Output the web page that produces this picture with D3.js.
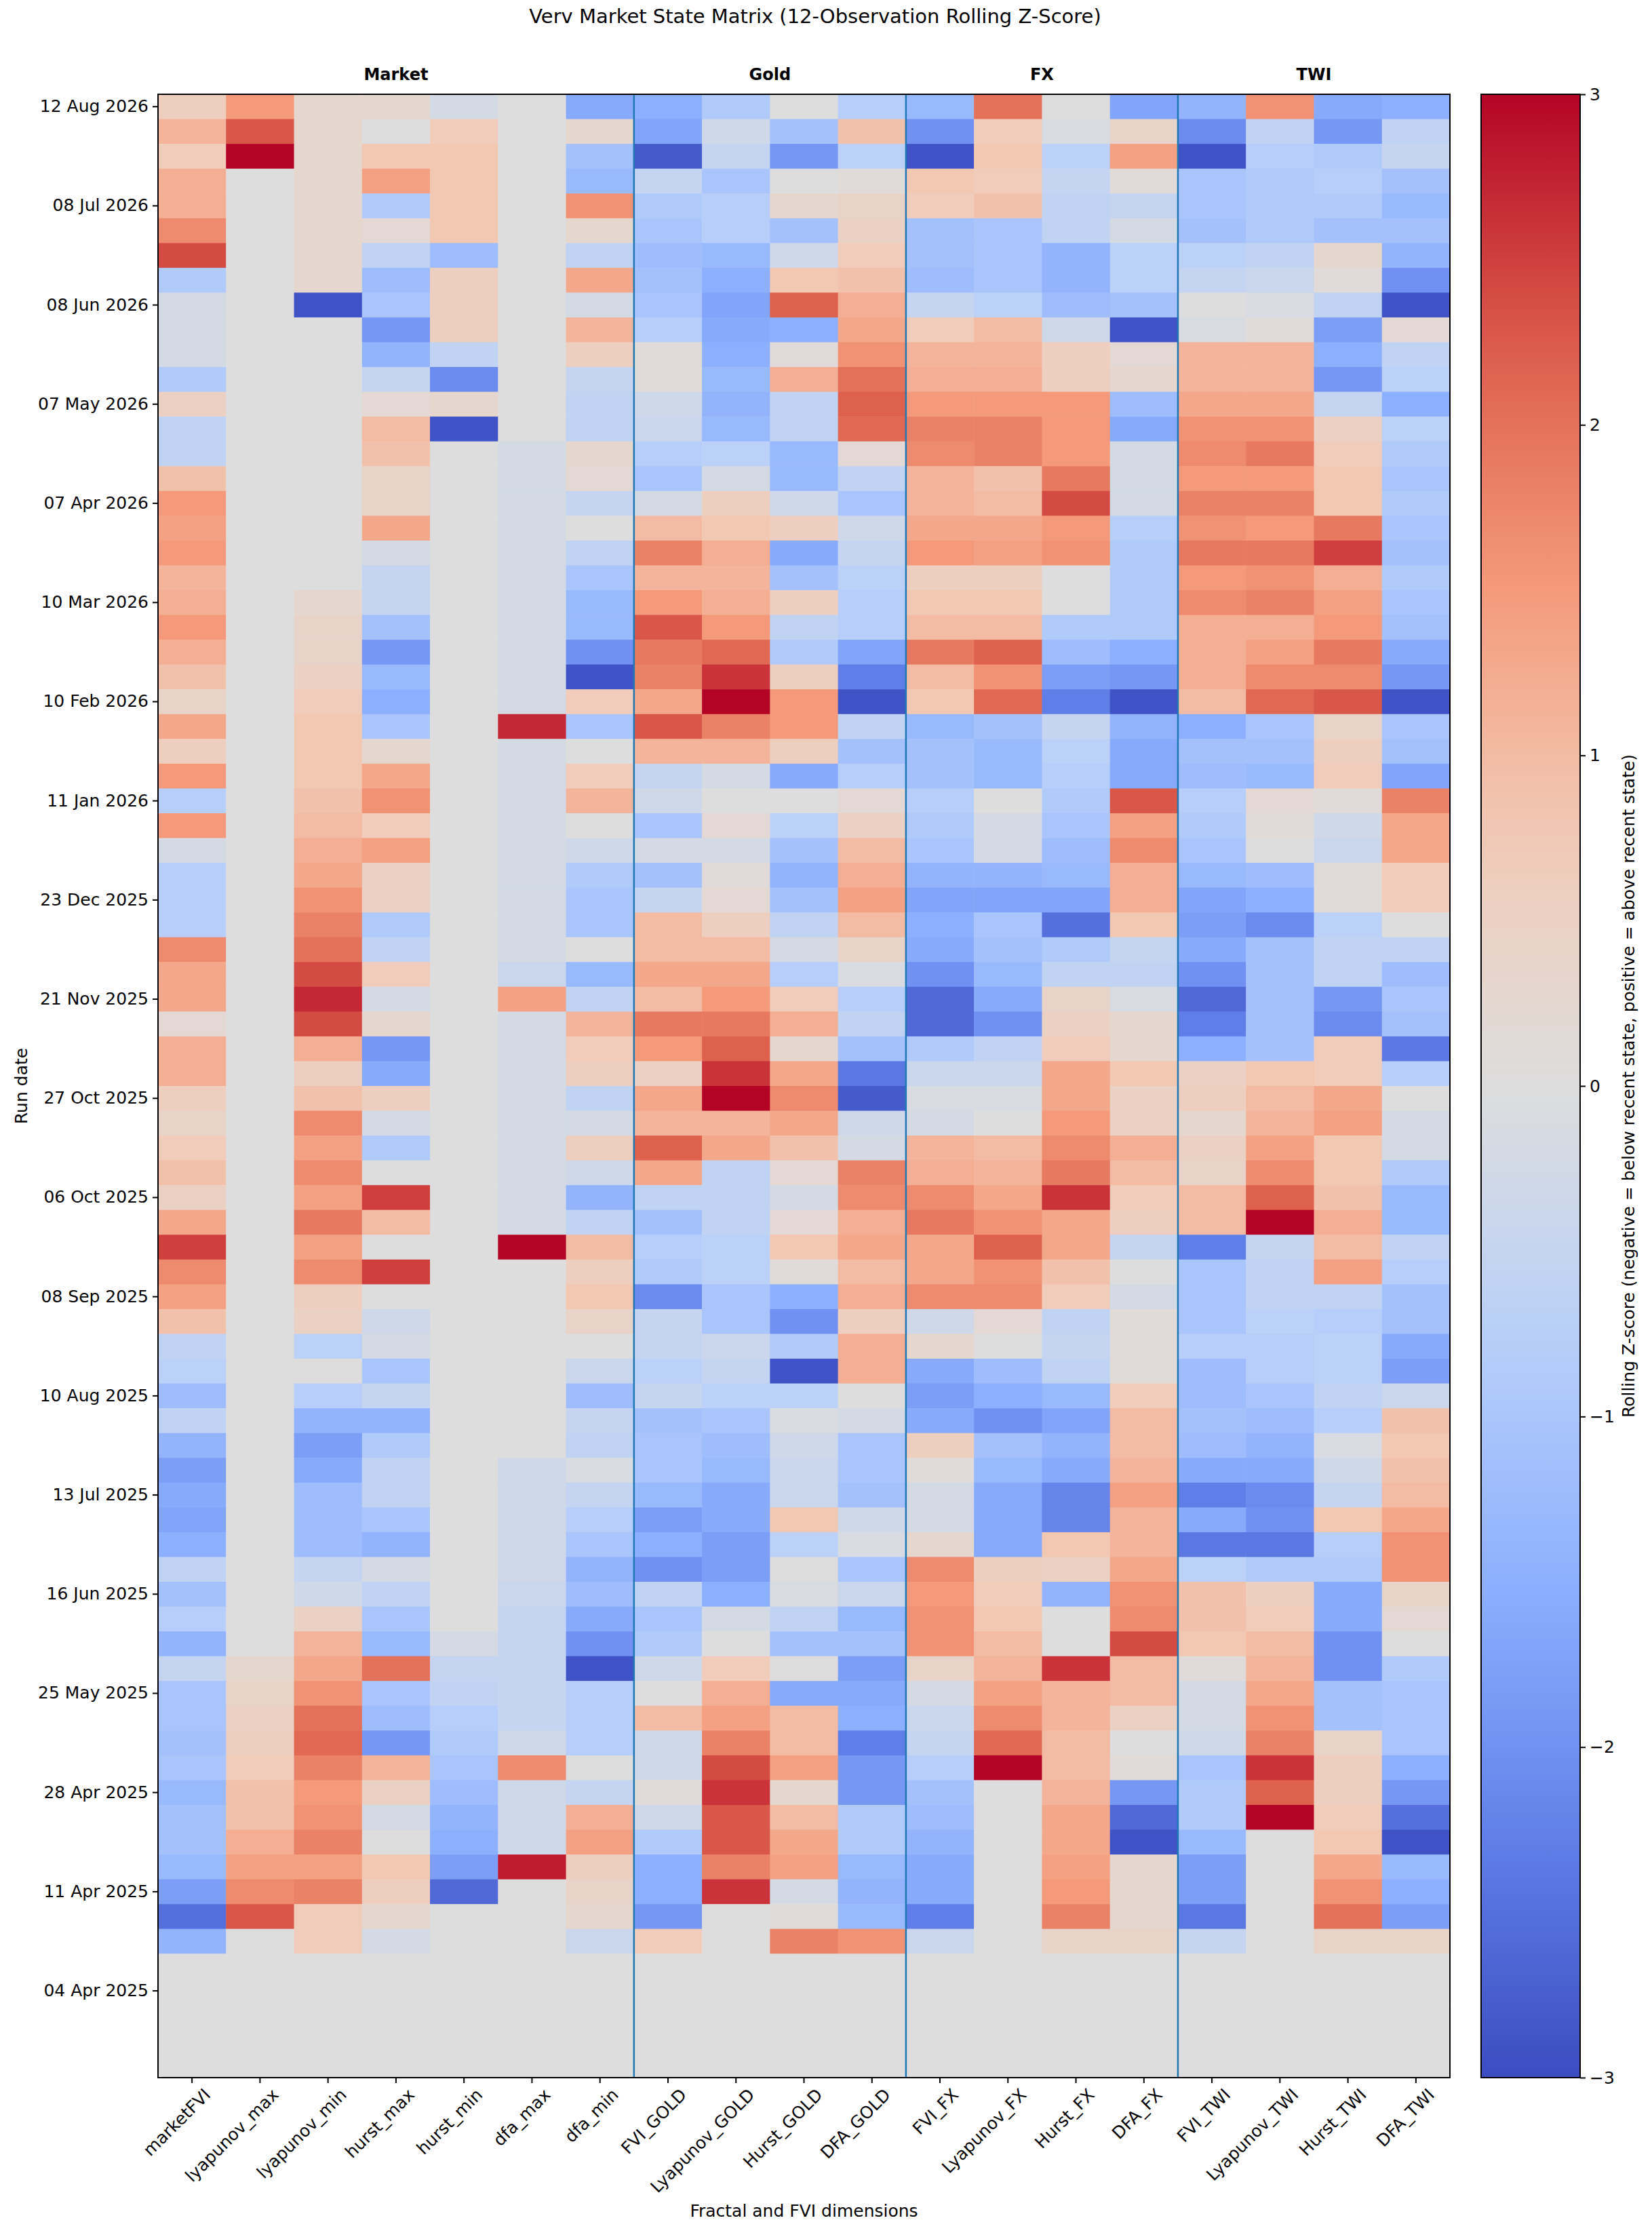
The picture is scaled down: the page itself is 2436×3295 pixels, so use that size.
<!DOCTYPE html>
<html><head><meta charset="utf-8">
<script src="https://cdn.jsdelivr.net/npm/d3@7"></script>
<style>body{margin:0;background:#fff}text{font-family:"DejaVu Sans",sans-serif}</style>
</head><body>
<script>
const columns = ["marketFVI","lyapunov_max","lyapunov_min","hurst_max","hurst_min","dfa_max","dfa_min","FVI_GOLD","Lyapunov_GOLD","Hurst_GOLD","DFA_GOLD","FVI_FX","Lyapunov_FX","Hurst_FX","DFA_FX","FVI_TWI","Lyapunov_TWI","Hurst_TWI","DFA_TWI"];
const groups = [{name:"Market",from:0,to:7},{name:"Gold",from:7,to:11},{name:"FX",from:11,to:15},{name:"TWI",from:15,to:19}];
const dateTicks = ["12 Aug 2026","08 Jul 2026","08 Jun 2026","07 May 2026","07 Apr 2026","10 Mar 2026","10 Feb 2026","11 Jan 2026","23 Dec 2025","21 Nov 2025","27 Oct 2025","06 Oct 2025","08 Sep 2025","10 Aug 2025","13 Jul 2025","16 Jun 2025","25 May 2025","28 Apr 2025","11 Apr 2025","04 Apr 2025"];
const tickEvery = 4;
const nRows = 80;
const values = [
[0.6,1.5,0.3,0.3,-0.2,0,-1.6,-1.5,-0.9,0,-0.8,-1.3,2.0,0,-1.7,-1.4,1.6,-1.6,-1.5],
[1.1,2.3,0.3,0.0,0.7,0,0.3,-1.7,-0.3,-1.1,0.9,-2.0,0.7,-0.1,0.4,-2.1,-0.6,-1.9,-0.6],
[0.7,3.0,0.3,0.8,0.8,0,-1.1,-2.8,-0.5,-1.9,-0.7,-2.9,0.8,-0.7,1.4,-2.9,-0.8,-0.9,-0.5],
[1.2,0,0.3,1.4,0.8,0,-1.3,-0.5,-1.0,0,0.1,0.8,0.7,-0.5,0.1,-1.0,-0.9,-0.8,-1.1],
[1.2,0,0.3,-0.9,0.8,0,1.6,-0.9,-0.8,0.3,0.4,0.7,0.9,-0.6,-0.5,-1.0,-0.9,-0.9,-1.3],
[1.7,0,0.3,0.2,0.8,0,0.3,-1.0,-0.8,-1.1,0.5,-1.1,-1.0,-0.6,-0.2,-1.1,-0.9,-1.1,-1.1],
[2.4,0,0.3,-0.6,-1.2,0,-0.6,-1.2,-1.3,-0.3,0.7,-1.1,-1.0,-1.4,-0.7,-0.7,-0.6,0.3,-1.4],
[-0.9,0,0.3,-1.2,0.6,0,1.3,-1.1,-1.5,0.8,0.9,-1.2,-1.0,-1.4,-0.7,-0.5,-0.4,0.1,-2.0],
[-0.2,0,-2.9,-1.0,0.6,0,-0.2,-1.0,-1.7,2.2,1.2,-0.5,-0.7,-1.2,-1.1,0,-0.1,-0.6,-2.9],
[-0.2,0,0,-1.9,0.6,0,1.1,-0.8,-1.6,-1.5,1.3,0.7,1.0,-0.3,-2.9,-0.1,0.1,-1.8,0.2],
[-0.2,0,0,-1.4,-0.6,0,0.6,0.1,-1.5,0.1,1.6,1.1,1.1,0.6,0.2,1.1,1.1,-1.5,-0.6],
[-0.9,0,0,-0.5,-2.1,0,-0.5,0.1,-1.3,1.2,2.0,1.2,1.2,0.6,0.3,1.1,1.1,-1.9,-0.7],
[0.5,0,0,0.2,0.3,0,-0.6,-0.3,-1.4,-0.6,2.2,1.5,1.5,1.5,-1.2,1.3,1.3,-0.5,-1.5],
[-0.6,0,0,1.0,-2.9,0,-0.6,-0.4,-1.3,-0.6,2.1,1.8,1.8,1.5,-1.6,1.6,1.6,0.5,-0.7],
[-0.6,0,0,0.9,0,-0.2,0.3,-0.8,-0.7,-1.3,0.2,1.7,1.8,1.5,-0.2,1.7,1.9,0.7,-0.9],
[0.9,0,0,0.4,0,-0.2,0.2,-1.0,-0.2,-1.3,-0.6,1.1,0.9,1.9,-0.2,1.5,1.5,0.8,-1.0],
[1.5,0,0,0.4,0,-0.2,-0.5,-0.2,0.6,-0.3,-1.0,1.1,1.0,2.4,-0.2,1.8,1.8,0.8,-0.9],
[1.4,0,0,1.3,0,-0.2,0,1.0,0.8,0.6,-0.3,1.3,1.3,1.5,-0.8,1.6,1.5,1.9,-1.0],
[1.5,0,0,-0.2,0,-0.2,-0.6,1.8,1.2,-1.6,-0.5,1.5,1.4,1.6,-0.9,1.9,1.9,2.5,-1.1],
[1.1,0,0,-0.5,0,-0.2,-1.0,1.1,1.1,-1.1,-0.7,0.6,0.6,0,-0.9,1.5,1.6,1.2,-0.9],
[1.2,0,0.3,-0.5,0,-0.2,-1.3,1.5,1.2,0.6,-0.8,0.8,0.8,0,-0.9,1.7,1.8,1.4,-1.0],
[1.5,0,0.4,-1.1,0,-0.2,-1.3,2.3,1.5,-0.6,-0.8,1.0,1.0,-0.9,-0.9,1.2,1.2,1.5,-1.1],
[1.2,0,0.4,-1.9,0,-0.2,-2.0,1.9,2.1,-0.9,-1.7,1.9,2.2,-1.2,-1.5,1.2,1.4,1.9,-1.6],
[0.9,0,0.5,-1.3,0,-0.2,-2.9,1.8,2.6,0.6,-2.3,1.0,1.6,-1.8,-1.9,1.2,1.7,1.7,-1.9],
[0.4,0,0.7,-1.5,0,-0.2,0.7,1.3,3.0,1.5,-2.9,0.8,2.1,-2.3,-2.9,1.0,2.1,2.3,-2.9],
[1.3,0,0.8,-1.0,0,2.7,-1.0,2.3,1.8,1.5,-0.6,-1.3,-1.1,-0.5,-1.4,-1.5,-1.0,0.4,-1.0],
[0.6,0,0.8,0.3,0,-0.2,0,1.1,1.1,0.6,-1.1,-1.1,-1.3,-0.7,-1.6,-1.1,-1.1,0.6,-1.1],
[1.5,0,0.8,1.3,0,-0.2,0.7,-0.5,-0.2,-1.6,-0.8,-1.1,-1.3,-0.8,-1.6,-1.2,-1.3,0.7,-1.7],
[-0.8,0,0.9,1.6,0,-0.2,1.1,-0.3,0,0,0.2,-0.8,0,-0.9,2.3,-0.8,0.2,0.1,1.8],
[1.5,0,1.0,0.7,0,-0.2,0,-1.0,0.2,-0.7,0.5,-0.9,-0.2,-1.0,1.4,-0.9,0.1,-0.3,1.3],
[-0.2,0,1.2,1.4,0,-0.2,-0.3,-0.2,-0.2,-1.1,1.0,-1.0,-0.2,-1.2,1.7,-1.0,0,-0.4,1.3],
[-0.8,0,1.3,0.5,0,-0.2,-0.9,-1.1,0.1,-1.4,1.2,-1.4,-1.4,-1.3,1.2,-1.3,-1.2,0.1,0.7],
[-0.8,0,1.6,0.5,0,-0.2,-1.0,-0.5,0.2,-1.1,1.4,-1.7,-1.7,-1.7,1.2,-1.7,-1.5,0.1,0.7],
[-0.8,0,1.8,-0.9,0,-0.2,-1.0,1.0,0.6,-0.6,1.0,-1.5,-1.0,-2.5,0.8,-1.8,-2.1,-0.7,0],
[1.7,0,2.0,-0.6,0,-0.2,0,1.0,1.0,-0.2,0.4,-1.6,-1.1,-0.9,-0.5,-1.6,-1.1,-0.6,-0.6],
[1.3,0,2.4,0.7,0,-0.4,-1.3,1.3,1.3,-0.8,-0.1,-2.0,-1.3,-0.6,-0.6,-2.0,-1.1,-0.6,-1.2],
[1.3,0,2.7,-0.2,0,1.4,-0.6,1.0,1.5,0.7,-0.8,-2.6,-1.6,0.4,-0.1,-2.6,-1.1,-1.9,-1.0],
[0.2,0,2.4,0.3,0,-0.2,1.1,1.9,1.9,1.2,-0.6,-2.6,-2.0,0.5,0.3,-2.3,-1.1,-2.1,-1.1],
[1.2,0,1.2,-1.9,0,-0.2,0.7,1.5,2.2,0.3,-1.1,-0.9,-0.6,0.7,0.3,-1.5,-1.1,0.7,-2.4],
[1.2,0,0.6,-1.6,0,-0.2,0.6,0.5,2.6,1.3,-2.4,-0.4,-0.4,1.3,0.8,0.5,0.8,0.7,-0.8],
[0.6,0,0.9,0.6,0,-0.2,-0.6,1.3,3.0,1.7,-2.8,-0.1,-0.1,1.3,0.5,0.6,1.0,1.3,0],
[0.4,0,1.7,-0.2,0,-0.2,-0.2,1.1,1.1,1.3,-0.3,-0.2,0,1.5,0.5,0.3,1.1,1.4,-0.2],
[0.7,0,1.4,-0.9,0,-0.2,0.6,2.2,1.3,0.9,-0.2,1.1,1.0,1.7,1.2,0.5,1.4,0.8,-0.2],
[0.9,0,1.7,0,0,-0.2,-0.3,1.3,-0.6,0.2,1.8,1.2,1.1,1.9,1.0,0.4,1.7,0.8,-0.9],
[0.5,0,1.4,2.5,0,-0.2,-1.4,-0.6,-0.6,-0.2,1.7,1.7,1.3,2.6,0.7,1.0,2.2,0.9,-1.3],
[1.3,0,1.9,1.0,0,-0.2,-0.6,-1.1,-0.6,0.2,1.2,1.9,1.6,1.3,0.6,1.0,3.0,1.2,-1.3],
[2.5,0,1.4,0,0,3.0,1.0,-0.8,-0.7,0.8,1.3,1.3,2.2,1.3,-0.5,-2.3,-0.5,1.0,-0.6],
[1.7,0,1.7,2.5,0,0,0.6,-0.9,-0.7,0.1,1.0,1.3,1.6,0.9,0,-1.0,-0.6,1.4,-0.8],
[1.4,0,0.6,0,0,0,0.8,-2.1,-1.0,-1.5,1.2,1.7,1.7,0.7,-0.2,-1.0,-0.6,-0.6,-1.1],
[0.9,0,0.5,-0.3,0,0,0.4,-0.5,-1.0,-2.0,0.6,-0.3,0.2,-0.6,0.1,-1.0,-0.7,-0.8,-1.1],
[-0.6,0,-0.7,-0.2,0,0,0,-0.5,-0.4,-0.9,1.2,0.3,0,-0.5,0.1,-0.8,-0.8,-0.7,-1.6],
[-0.7,0,0,-1.0,0,0,-0.4,-0.7,-0.5,-2.9,1.2,-1.6,-1.2,-0.6,0.1,-1.2,-0.8,-0.7,-1.8],
[-1.2,0,-0.8,-0.5,0,0,-1.2,-0.5,-0.7,-0.7,0,-1.8,-1.5,-1.3,0.7,-1.2,-1.0,-0.6,-0.4],
[-0.6,0,-1.4,-1.4,0,0,-0.5,-1.1,-1.0,-0.1,-0.2,-1.6,-2.0,-1.7,1.0,-1.1,-1.2,-0.8,0.9],
[-1.4,0,-1.8,-0.9,0,0,-0.6,-1.0,-1.2,-0.3,-1.0,0.6,-1.1,-1.4,1.0,-1.2,-1.4,-0.1,0.8],
[-1.8,0,-1.6,-0.6,0,-0.3,-0.1,-1.0,-1.3,-0.4,-1.0,0.1,-1.3,-1.6,1.1,-1.6,-1.6,-0.3,0.9],
[-1.6,0,-1.2,-0.6,0,-0.3,-0.5,-1.3,-1.6,-0.4,-1.1,-0.2,-1.6,-2.2,1.4,-2.3,-2.1,-0.5,1.0],
[-1.7,0,-1.2,-1.0,0,-0.3,-0.8,-1.8,-1.6,0.8,-0.3,-0.2,-1.6,-2.2,1.1,-1.6,-2.0,0.8,1.3],
[-1.5,0,-1.2,-1.4,0,-0.3,-1.0,-1.5,-1.8,-0.7,-0.1,0.3,-1.6,0.8,1.1,-2.4,-2.4,-0.8,1.6],
[-0.6,0,-0.5,-0.2,0,-0.3,-1.4,-2.0,-1.8,0,-1.0,1.7,0.6,0.5,1.3,-0.7,-0.9,-0.9,1.6],
[-1.1,0,-0.3,-0.6,0,-0.4,-1.2,-0.6,-1.5,-0.1,-0.4,1.5,0.7,-1.4,1.6,0.9,0.6,-1.6,0.4],
[-0.8,0,0.5,-1.0,0,-0.5,-1.6,-1.0,-0.2,-0.6,-1.3,1.6,0.8,0,1.7,0.9,0.7,-1.6,0.2],
[-1.4,0,1.1,-1.3,-0.2,-0.5,-2.0,-0.9,0,-1.1,-1.1,1.6,1.0,0,2.4,0.8,1.0,-2.0,0],
[-0.5,0.3,1.3,2.0,-0.5,-0.5,-2.9,-0.3,0.7,0,-1.8,0.4,1.1,2.6,1.0,0.1,1.1,-2.0,-0.9],
[-1.0,0.4,1.6,-1.0,-0.6,-0.5,-0.8,0,1.2,-1.6,-1.6,-0.2,1.4,1.1,1.0,-0.2,1.3,-1.1,-1.0],
[-1.0,0.5,2.0,-1.2,-0.8,-0.5,-0.8,1.0,1.4,1.0,-1.5,-0.4,1.7,1.1,0.5,-0.2,1.6,-1.1,-1.0],
[-1.1,0.6,2.1,-1.9,-0.9,-0.3,-0.8,-0.3,1.8,1.0,-2.3,-0.5,2.1,1.0,0,-0.3,1.8,0.4,-1.0],
[-1.0,0.7,1.8,1.1,-1.0,1.7,0,-0.3,2.4,1.4,-1.9,-0.8,3.0,1.0,0.1,-1.0,2.6,0.6,-1.5],
[-1.3,0.9,1.5,0.5,-1.2,-0.3,-0.5,0.1,2.6,0.3,-1.9,-1.1,0,1.1,-1.9,-0.9,2.2,0.6,-1.9],
[-1.1,0.9,1.6,-0.2,-1.4,-0.3,1.2,-0.3,2.3,1.0,-0.9,-1.2,0,1.3,-2.6,-0.9,3.0,0.7,-2.5],
[-1.1,1.2,1.8,0,-1.5,-0.3,1.4,-0.9,2.3,1.3,-0.9,-1.4,0,1.3,-2.9,-1.3,0,0.8,-2.9],
[-1.3,1.4,1.4,0.8,-1.8,2.8,0.6,-1.5,1.8,1.4,-1.3,-1.6,0,1.4,0.3,-1.8,0,1.3,-1.3],
[-1.8,1.7,1.8,0.6,-2.6,0,0.4,-1.5,2.6,-0.2,-1.4,-1.6,0,1.5,0.3,-1.8,0,1.6,-1.5],
[-2.5,2.3,0.7,0.3,0,0,0.3,-1.9,0,0.1,-1.3,-2.3,0,1.8,0.3,-2.4,0,2.0,-1.8],
[-1.4,0,0.7,-0.2,0,0,-0.4,0.7,0,1.8,1.6,-0.4,0,0.4,0.4,-0.5,0,0.4,0.4]
];
const cbTicks = [-3,-2,-1,0,1,2,3];

const W=2436,H=3295;
const m={l:233,r:2138,t:139,b:3063};
const svg=d3.select("body").append("svg").attr("width",W).attr("height",H);
const coolwarm=["#3b4cc0","#6282ea","#8db0fe","#b9d0f9","#dddddd","#f2cbb7","#f49a7b","#dc5d4a","#b40426"];
const color=d3.scaleLinear().domain(d3.range(9).map(i=>-3+i*0.75)).range(coolwarm).clamp(true);
const x=d3.scaleBand().domain(columns).range([m.l,m.r]);
const rowIdx=d3.range(nRows);
const y=d3.scaleBand().domain(rowIdx).range([m.t,m.b]);

const cells=[];
rowIdx.forEach(r=>columns.forEach((c,j)=>{const v=values[r]?values[r][j]:null;cells.push({r,c,v});}));
svg.append("g").selectAll("rect").data(cells).join("rect")
 .attr("x",d=>x(d.c)).attr("y",d=>y(d.r)).attr("width",x.bandwidth()+0.6).attr("height",y.bandwidth()+0.6)
 .attr("fill",d=>d.v==null?"#dddddd":color(d.v));

// group separators
groups.slice(1).forEach(g=>{svg.append("line").attr("x1",x(columns[g.from])).attr("x2",x(columns[g.from]))
 .attr("y1",m.t).attr("y2",m.b).attr("stroke","#1f77b4").attr("stroke-width",2.5);});
groups.forEach(g=>{const cx=(x(columns[g.from])+x(columns[g.to-1])+x.bandwidth())/2;
 svg.append("text").attr("x",cx).attr("y",118).attr("text-anchor","middle").attr("font-size",24).attr("font-weight","bold").text(g.name);});

svg.append("rect").attr("x",m.l).attr("y",m.t).attr("width",m.r-m.l).attr("height",m.b-m.t).attr("fill","none").attr("stroke","#000").attr("stroke-width",2);

// y axis
const yAx=d3.axisLeft(y).tickValues(dateTicks.map((d,i)=>i*tickEvery)).tickFormat((d,i)=>dateTicks[i]).tickSize(8).tickPadding(6);
const gy=svg.append("g").attr("transform",`translate(${m.l},0)`).call(yAx);
gy.select(".domain").remove();
gy.selectAll("text").attr("font-size",25).attr("font-family","DejaVu Sans");
gy.selectAll("line").attr("stroke-width",2);
// x axis
const xAx=d3.axisBottom(x).tickSize(8).tickPadding(4);
const gx=svg.append("g").attr("transform",`translate(0,${m.b})`).call(xAx);
gx.select(".domain").remove();
gx.selectAll("line").attr("stroke-width",2);
gx.selectAll("text").attr("font-size",25).attr("font-family","DejaVu Sans").attr("text-anchor","end")
 .attr("transform","translate(8,6) rotate(-45)").attr("dy","0.7em").attr("dx","0");

svg.append("text").attr("x",W/2-16).attr("y",34).attr("text-anchor","middle").attr("font-size",29).text("Verv Market State Matrix (12-Observation Rolling Z-Score)");
svg.append("text").attr("x",(m.l+m.r)/2).attr("y",3268).attr("text-anchor","middle").attr("font-size",25).text("Fractal and FVI dimensions");
svg.append("text").attr("transform",`translate(40,${(m.t+m.b)/2}) rotate(-90)`).attr("text-anchor","middle").attr("font-size",25).text("Run date");

// colorbar
const cb={x:2184,w:146};
const cy=d3.scaleLinear().domain([-3,3]).range([m.b,m.t]);
const defs=svg.append("defs");
const grad=defs.append("linearGradient").attr("id","cg").attr("x1",0).attr("x2",0).attr("y1",1).attr("y2",0);
d3.range(0,1.0001,0.05).forEach(t=>grad.append("stop").attr("offset",t).attr("stop-color",color(-3+6*t)));
svg.append("rect").attr("x",cb.x).attr("y",m.t).attr("width",cb.w).attr("height",m.b-m.t).attr("fill","url(#cg)").attr("stroke","#000").attr("stroke-width",2);
const gc=svg.append("g").attr("transform",`translate(${cb.x+cb.w},0)`).call(d3.axisRight(cy).tickValues(cbTicks).tickFormat(d=>d<0?"\u2212"+(-d):d).tickSize(8).tickPadding(6));
gc.select(".domain").remove();
gc.selectAll("line").attr("stroke-width",2);
gc.selectAll("text").attr("font-size",25).attr("font-family","DejaVu Sans");
svg.append("text").attr("transform",`translate(2410,${(m.t+m.b)/2}) rotate(-90)`).attr("text-anchor","middle").attr("font-size",25)
 .text("Rolling Z-score (negative = below recent state, positive = above recent state)");
</script>
</body></html>
